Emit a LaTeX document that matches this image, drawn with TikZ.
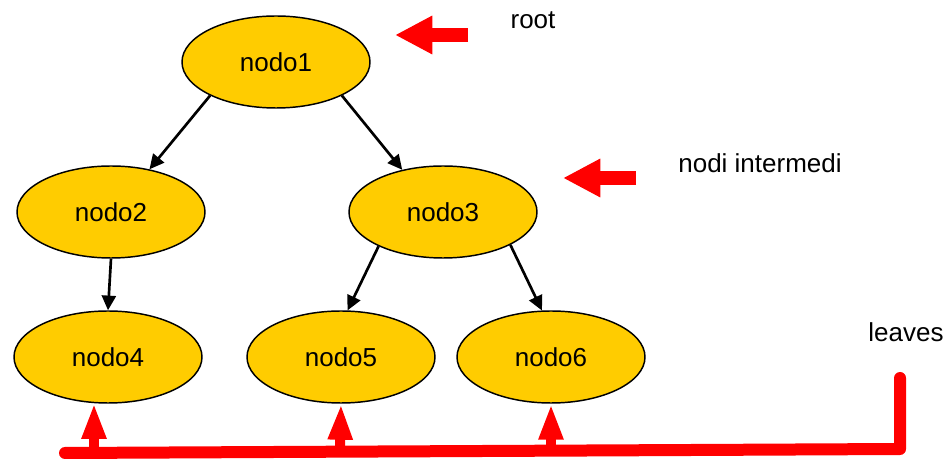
\documentclass[tikz,border=0pt]{standalone}
\usepackage{fontspec}
\setmainfont{Liberation Sans}
\usepackage{xcolor}
\usepackage{tikz}
\usetikzlibrary{arrows.meta,shapes.geometric}

\definecolor{nodeyellow}{RGB}{255,204,0}
\definecolor{markred}{RGB}{255,0,0}

\begin{document}
\begin{tikzpicture}[
  x=0.75pt, y=-0.75pt,
  tnode/.style={ellipse, draw, line width=1.1pt, fill=nodeyellow,
    minimum width=141pt, minimum height=69pt, inner sep=0pt,
    font=\fontsize{19.5}{23}\selectfont},
  link/.style={-{Triangle[length=11pt, width=10.5pt]}, line width=2pt},
  pointer/.style={markred, line width=10.5pt, -{Triangle[length=28pt, width=27pt]}},
  uppointer/.style={markred, line width=7.5pt, -{Triangle[length=27pt, width=17pt]}},
  note/.style={font=\fontsize{19.5}{23}\selectfont},
]
  \useasboundingbox (0,0) rectangle (950,459);

  % tree nodes
  \node[tnode] (n1) at (276,62)  {nodo1};
  \node[tnode] (n2) at (111,212) {nodo2};
  \node[tnode] (n3) at (443,212) {nodo3};
  \node[tnode] (n4) at (108,357) {nodo4};
  \node[tnode] (n5) at (341,357) {nodo5};
  \node[tnode] (n6) at (551,357) {nodo6};

  % parent -> child links
  \draw[link] (n1.207) -- (n2.48);
  \draw[link] (n1.333) -- (n3.134);
  \draw[link] (n2.south) -- (n4.north);
  \draw[link] (n3.208) -- (n5.82);
  \draw[link] (n3.334) -- (n6.101);

  % labels on the right
  \node[note] (root) at (533,20) {root};
  \node[note] (inner) at (760,163) {nodi intermedi};
  \node[note] (leaves) at (906,332) {leaves};

  % red pointers
  \coordinate (rootTail) at (468,35);
  \coordinate (rootTip) at (395,35);
  \coordinate (innerTail) at (636,178);
  \coordinate (innerTip) at (563,178);
  \draw[pointer] (rootTail) -- (rootTip);
  \draw[pointer] (innerTail) -- (innerTip);

  \coordinate (barL) at (65,453);
  \coordinate (barR) at (900,449);
  \coordinate (barTop) at (900,378);
  \draw[markred, line width=9pt, line cap=round, line join=round]
    (barL) -- (barR) -- (barTop);

  \coordinate (b4) at (94,450);
  \coordinate (b5) at (340,450);
  \coordinate (b6) at (551,450);
  \coordinate (t4) at (94,403);
  \draw[uppointer] (b4) -- (t4);
  \draw[uppointer] (b5) -- (n5.south);
  \draw[uppointer] (b6) -- (n6.south);
\end{tikzpicture}
\end{document}
